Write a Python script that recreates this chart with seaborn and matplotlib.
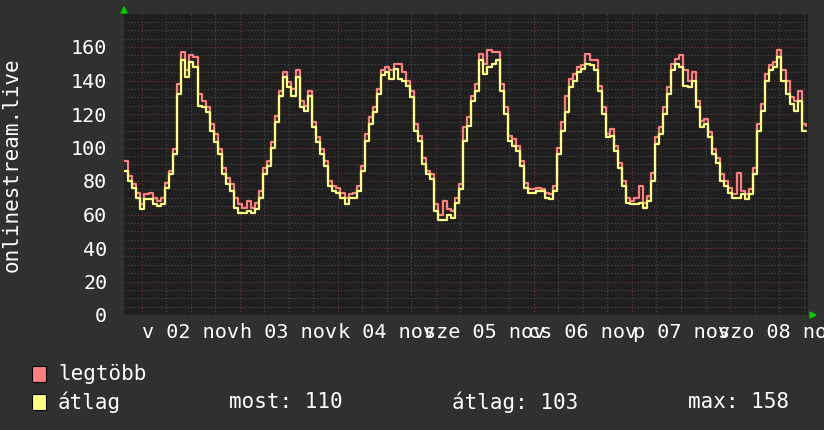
import matplotlib
matplotlib.use("Agg")
import matplotlib.pyplot as plt
import matplotlib.dates as mdates
from matplotlib.patches import Rectangle
import seaborn as sns
import pandas as pd

# hourly samples, first one at 2025-11-01 19:36
start = "2025-11-01 19:36"

max_vals = [92, 83, 78, 73, 66, 72, 73, 70, 68, 70, 79, 86, 99, 138, 157, 146, 155, 154, 132, 128,
            124, 114, 108, 99, 88, 82, 78, 70, 66, 64, 68, 64, 67, 74, 88, 92, 103, 119, 134, 145,
            139, 135, 146, 128, 125, 134, 115, 106, 99, 92, 80, 77, 76, 73, 70, 72, 73, 77, 89, 108,
            118, 124, 135, 146, 148, 146, 150, 150, 145, 140, 134, 114, 107, 94, 86, 84, 66, 60, 68, 63,
            62, 70, 78, 112, 118, 131, 138, 156, 150, 158, 157, 157, 138, 124, 107, 105, 101, 92, 79, 75,
            75, 76, 75, 73, 72, 77, 100, 115, 131, 141, 144, 148, 149, 156, 152, 152, 137, 124, 108, 111,
            101, 91, 80, 70, 68, 70, 77, 67, 71, 85, 106, 112, 124, 136, 150, 153, 155, 146, 140, 145,
            128, 116, 117, 109, 99, 94, 84, 80, 76, 72, 85, 74, 72, 75, 88, 114, 126, 144, 149, 151,
            158, 146, 140, 130, 128, 134, 114, 113]

avg_vals = [86, 80, 76, 70, 63, 69, 69, 66, 65, 66, 76, 84, 96, 132, 152, 142, 151, 148, 125, 124,
            121, 110, 103, 96, 84, 78, 74, 64, 61, 61, 62, 61, 63, 70, 84, 89, 100, 115, 131, 142,
            136, 131, 142, 124, 122, 131, 112, 103, 96, 89, 77, 74, 73, 70, 66, 70, 70, 74, 86, 104,
            114, 121, 132, 143, 145, 141, 147, 141, 140, 137, 130, 110, 104, 90, 84, 81, 62, 57, 57, 60,
            58, 67, 75, 104, 113, 128, 134, 152, 144, 148, 150, 152, 134, 120, 104, 101, 98, 89, 76, 73,
            73, 74, 74, 70, 69, 74, 96, 110, 121, 136, 140, 145, 147, 150, 149, 146, 134, 120, 106, 107,
            98, 88, 77, 67, 66, 66, 67, 64, 68, 80, 102, 108, 120, 132, 146, 150, 148, 137, 136, 140,
            124, 112, 114, 106, 96, 91, 80, 77, 73, 70, 70, 72, 69, 72, 84, 110, 122, 140, 146, 148,
            154, 140, 132, 126, 122, 128, 110, 110]

day_labels = ["v 02 nov", "h 03 nov", "k 04 nov", "sze 05 nov", "cs 06 nov", "p 07 nov", "szo 08 nov"]
y_label = "onlinestream.live"
legend_names = ["legtöbb", "átlag"]
summary = ["most: 110", "átlag: 103", "max: 158"]

BG = "#303030"
PLOT_BG = "#1f1f1f"
RED = "#ff7f7f"
YELLOW = "#ffff80"

times = pd.date_range(start, periods=len(avg_vals), freq="h")
df = pd.DataFrame({"time": times, "legtöbb": max_vals, "átlag": avg_vals})

sns.set_style("dark")
plt.rcParams["font.family"] = ["DejaVu Sans Mono", "DejaVu Sans"]

fig = plt.figure(figsize=(8.24, 4.30), dpi=100, facecolor=BG)
ax = fig.add_axes([124 / 824, 1 - 315 / 430, 684 / 824, 301.5 / 430])
ax.set_facecolor(PLOT_BG)

sns.lineplot(data=df, x="time", y="legtöbb", ax=ax, color=RED, lw=1.6, drawstyle="steps-post")
sns.lineplot(data=df, x="time", y="átlag", ax=ax, color=YELLOW, lw=1.6, drawstyle="steps-post")

t0 = pd.Timestamp(start)
ax.set_xlim(t0, t0 + pd.Timedelta(hours=167.5))
ax.set_ylim(0, 180)

# grid: major red dotted, minor gray dotted
day0 = pd.Timestamp("2025-11-02")
midnights = [day0 + pd.Timedelta(days=i) for i in range(7)]
minor_x = [m + pd.Timedelta(hours=h) for m in [day0 - pd.Timedelta(days=1)] + midnights
           for h in (6, 12, 18)]
minor_x = [m for m in minor_x if t0 <= m <= t0 + pd.Timedelta(hours=167.5)]
ax.set_xticks(midnights)
ax.set_xticks(minor_x, minor=True)
ax.set_xticklabels([])
ax.set_yticks(range(0, 180, 20))
ax.set_yticks(range(0, 180, 5), minor=True)
ax.grid(True, which="minor", color="#4c4c4c", ls=(0, (1, 2)), lw=0.8)
ax.grid(True, which="major", color="#703838", ls=(0, (1, 2)), lw=0.8)
ax.set_axisbelow(True)

ax.tick_params(axis="both", which="minor", length=0)
ax.tick_params(axis="x", which="major", length=3, color="#a04040", width=0.8)
ax.tick_params(axis="y", which="major", length=3, color="#a04040", width=0.8,
               labelsize=14.5, labelcolor="white", pad=9)
ax.set_xlabel("")
ax.set_ylabel("")

# day labels centred at noon
for i, lab in enumerate(day_labels):
    ax.annotate(lab, xy=(mdates.date2num(midnights[i] + pd.Timedelta(hours=12)), 0),
                xycoords=("data", "axes fraction"), xytext=(0, -8), textcoords="offset pixels",
                ha="center", va="top", color="white", fontsize=14.5, annotation_clip=False)

for s in ax.spines.values():
    s.set_visible(False)

# arrows
fig.patches.append(plt.Polygon([[121 / 824, 1 - 13 / 430], [127 / 824, 1 - 13 / 430], [124 / 824, 1 - 7 / 430]],
                               closed=True, color="#00cc00", transform=fig.transFigure))
fig.patches.append(plt.Polygon([[810 / 824, 1 - 312 / 430], [810 / 824, 1 - 318 / 430], [816 / 824, 1 - 315 / 430]],
                               closed=True, color="#00cc00", transform=fig.transFigure))

fig.text(12 / 824, 1 - 165 / 430, y_label, rotation=90, ha="center", va="center",
         color="white", fontsize=15)

# legend
for i, (name, col) in enumerate(zip(legend_names, [RED, YELLOW])):
    yc = 374 + i * 28
    fig.patches.append(Rectangle((32 / 824, 1 - (yc + 8) / 430), 14 / 824, 16 / 430,
                                 facecolor=col, edgecolor="black", lw=0.8, transform=fig.transFigure))
    fig.text(58 / 824, 1 - yc / 430, name, ha="left", va="center", color="white", fontsize=15)

for x, txt in zip([229, 452, 688], summary):
    fig.text(x / 824, 1 - 402 / 430, txt, ha="left", va="center", color="white", fontsize=15)

fig.savefig("out.png", dpi=100, facecolor=BG)
